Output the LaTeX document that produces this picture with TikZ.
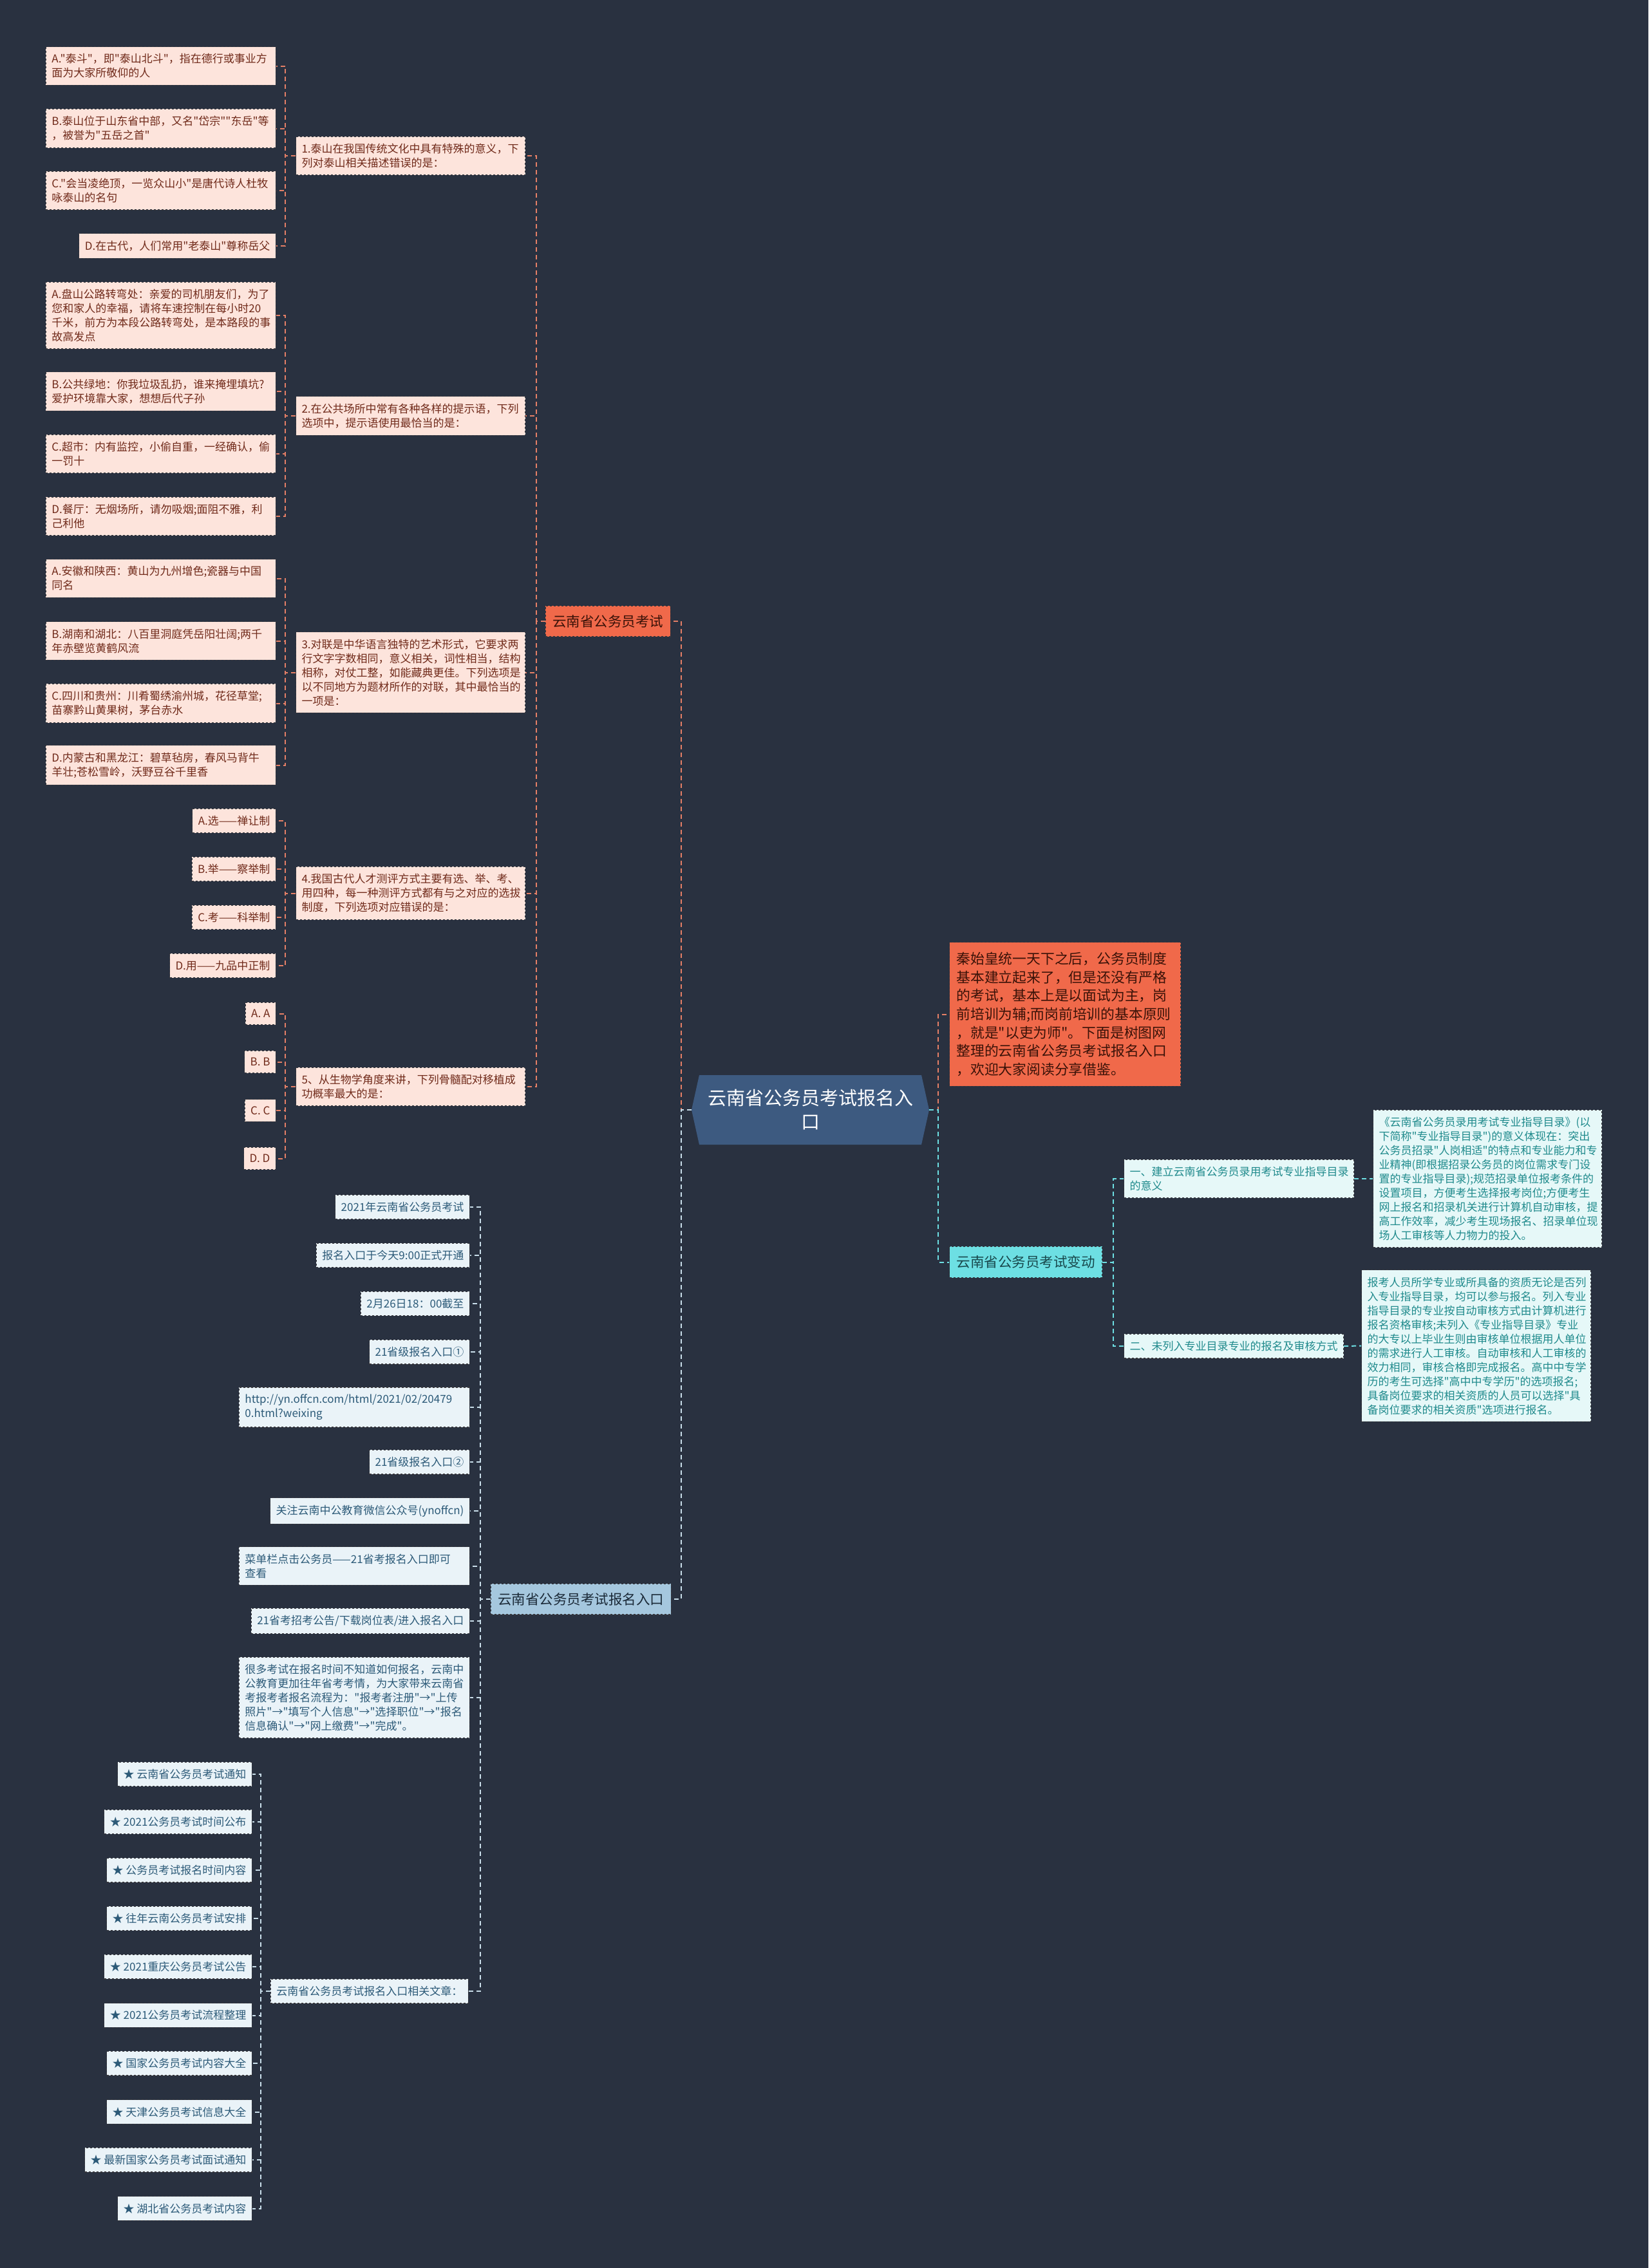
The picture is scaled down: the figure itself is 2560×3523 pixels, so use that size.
\documentclass[tikz,border=0pt]{standalone}
\usepackage{fontspec}
\setmainfont{Noto Sans CJK SC}[Ligatures=TeXOff]
\usepackage{xcolor}
\usepackage{tikz}
\usetikzlibrary{shapes.symbols,positioning}

\definecolor{bg}{RGB}{41,49,64}
\definecolor{edge}{RGB}{55,55,60}
\definecolor{rootfill}{RGB}{61,90,128}
\definecolor{coral}{RGB}{240,105,74}
\definecolor{coraltxt}{RGB}{58,18,8}
\definecolor{peach}{RGB}{253,228,220}
\definecolor{peachtxt}{RGB}{112,42,26}
\definecolor{oline}{RGB}{229,127,102}
\definecolor{aqua}{RGB}{109,223,227}
\definecolor{aquatxt}{RGB}{24,72,76}
\definecolor{mint}{RGB}{230,248,248}
\definecolor{minttxt}{RGB}{31,138,140}
\definecolor{sky}{RGB}{165,199,222}
\definecolor{skytxt}{RGB}{27,42,56}
\definecolor{frost}{RGB}{234,243,248}
\definecolor{frosttxt}{RGB}{44,90,120}
\definecolor{bline}{RGB}{201,222,234}

\begin{document}
\begin{tikzpicture}[x=1pt, y=-1pt,
  card/.style={rectangle, draw=edge, dashed, line width=1.1pt,
               inner xsep=9pt, inner ysep=11pt, align=left,
               font=\fontsize{17}{22}\selectfont},
  oleaf/.style={card, fill=peach, text=peachtxt},
  cleaf/.style={card, fill=mint, text=minttxt},
  bleaf/.style={card, fill=frost, text=frosttxt},
  topic/.style={card, fill=#1, inner xsep=11pt, inner ysep=14pt,
                font=\fontsize{21.5}{28}\selectfont},
  conn/.style={draw=#1, line width=2pt, dash pattern=on 7pt off 5pt}
]
  \fill[bg] (0,0) rectangle (2560,3523);
  \useasboundingbox (0,0) rectangle (2560,3523);

  % root
  \node[signal, signal to=west and east, signal pointer angle=155,
        fill=rootfill, text=white, minimum width=369pt, minimum height=108pt,
        inner sep=0pt, align=center, font=\fontsize{29}{37}\selectfont]
        (root) at (1258.5,1724) {云南省公务员考试报名入\\口};

  % branch: exam questions
  \node[topic=coral, text=coraltxt, anchor=east] (exam) at (1042,965) {云南省公务员考试};

  \node[oleaf, anchor=west, text width=338pt] (q1) at (459,242) {1.泰山在我国传统文化中具有特殊的意义，下\\列对泰山相关描述错误的是：};
  \node[oleaf, anchor=east, text width=339pt] (q1a) at (429,102.5) {A."泰斗"，即"泰山北斗"，指在德行或事业方\\面为大家所敬仰的人};
  \node[oleaf, anchor=east, text width=339pt] (q1b) at (429,199.5) {B.泰山位于山东省中部，又名"岱宗""东岳"等\\，被誉为"五岳之首"};
  \node[oleaf, anchor=east, text width=339pt] (q1c) at (429,296) {C."会当凌绝顶，一览众山小"是唐代诗人杜牧\\咏泰山的名句};
  \node[oleaf, anchor=east] (q1d) at (429,382) {D.在古代，人们常用"老泰山"尊称岳父};

  \node[oleaf, anchor=west, text width=338pt] (q2) at (459,646) {2.在公共场所中常有各种各样的提示语，下列\\选项中，提示语使用最恰当的是：};
  \node[oleaf, anchor=east, text width=339pt] (q2a) at (429,490) {A.盘山公路转弯处：亲爱的司机朋友们，为了\\您和家人的幸福，请将车速控制在每小时20\\千米，前方为本段公路转弯处，是本路段的事\\故高发点};
  \node[oleaf, anchor=east, text width=339pt] (q2b) at (429,608) {B.公共绿地：你我垃圾乱扔，谁来掩埋填坑?\\爱护环境靠大家，想想后代子孙};
  \node[oleaf, anchor=east, text width=339pt] (q2c) at (429,705) {C.超市：内有监控，小偷自重，一经确认，偷\\一罚十};
  \node[oleaf, anchor=east, text width=339pt] (q2d) at (429,802) {D.餐厅：无烟场所，请勿吸烟;面阻不雅，利\\己利他};

  \node[oleaf, anchor=west, text width=338pt] (q3) at (459,1044.5) {3.对联是中华语言独特的艺术形式，它要求两\\行文字字数相同，意义相关，词性相当，结构\\相称，对仗工整，如能藏典更佳。下列选项是\\以不同地方为题材所作的对联，其中最恰当的\\一项是：};
  \node[oleaf, anchor=east, text width=339pt] (q3a) at (429,898.5) {A.安徽和陕西：黄山为九州增色;瓷器与中国\\同名};
  \node[oleaf, anchor=east, text width=339pt] (q3b) at (429,995.5) {B.湖南和湖北：八百里洞庭凭岳阳壮阔;两千\\年赤壁览黄鹤风流};
  \node[oleaf, anchor=east, text width=339pt] (q3c) at (429,1092.5) {C.四川和贵州：川肴蜀绣渝州城，花径草堂;\\苗寨黔山黄果树，茅台赤水};
  \node[oleaf, anchor=east, text width=339pt] (q3d) at (429,1188.5) {D.内蒙古和黑龙江：碧草毡房，春风马背牛\\羊壮;苍松雪岭，沃野豆谷千里香};

  \node[oleaf, anchor=west, text width=338pt] (q4) at (459,1387.5) {4.我国古代人才测评方式主要有选、举、考、\\用四种，每一种测评方式都有与之对应的选拔\\制度，下列选项对应错误的是：};
  \node[oleaf, anchor=east] (q4a) at (429,1275) {A.选——禅让制};
  \node[oleaf, anchor=east] (q4b) at (429,1350) {B.举——察举制};
  \node[oleaf, anchor=east] (q4c) at (429,1425) {C.考——科举制};
  \node[oleaf, anchor=east] (q4d) at (429,1500) {D.用——九品中正制};

  \node[oleaf, anchor=west, text width=338pt] (q5) at (459,1688) {5、从生物学角度来讲，下列骨髓配对移植成\\功概率最大的是：};
  \node[oleaf, anchor=east] (q5a) at (429,1574.5) {A. A};
  \node[oleaf, anchor=east] (q5b) at (429,1649.5) {B. B};
  \node[oleaf, anchor=east] (q5c) at (429,1725) {C. C};
  \node[oleaf, anchor=east] (q5d) at (429,1799.5) {D. D};

  % right side
  \node[topic=coral, text=coraltxt, anchor=west, text width=337pt, align=left,
        font=\fontsize{21.8}{28.7}\selectfont, inner ysep=15.5pt] (intro) at (1474,1575.5)
        {秦始皇统一天下之后，公务员制度\\基本建立起来了，但是还没有严格\\的考试，基本上是以面试为主，岗\\前培训为辅;而岗前培训的基本原则\\，就是"以吏为师"。下面是树图网\\整理的云南省公务员考试报名入口\\，欢迎大家阅读分享借鉴。};
  \node[topic=aqua, text=aquatxt, anchor=west] (change) at (1474,1960.5) {云南省公务员考试变动};
  \node[cleaf, anchor=west, text width=339pt] (c1) at (1745,1831) {一、建立云南省公务员录用考试专业指导目录\\的意义};
  \node[cleaf, anchor=west] (c2) at (1745,2091) {二、未列入专业目录专业的报名及审核方式};
  \node[cleaf, anchor=west, text width=337pt] (c1t) at (2132,1831) {《云南省公务员录用考试专业指导目录》(以\\下简称"专业指导目录")的意义体现在：突出\\公务员招录"人岗相适"的特点和专业能力和专\\业精神(即根据招录公务员的岗位需求专门设\\置的专业指导目录);规范招录单位报考条件的\\设置项目，方便考生选择报考岗位;方便考生\\网上报名和招录机关进行计算机自动审核，提\\高工作效率，减少考生现场报名、招录单位现\\场人工审核等人力物力的投入。};
  \node[cleaf, anchor=west, text width=338pt] (c2t) at (2114,2090.5) {报考人员所学专业或所具备的资质无论是否列\\入专业指导目录，均可以参与报名。列入专业\\指导目录的专业按自动审核方式由计算机进行\\报名资格审核;未列入《专业指导目录》专业\\的大专以上毕业生则由审核单位根据用人单位\\的需求进行人工审核。自动审核和人工审核的\\效力相同，审核合格即完成报名。高中中专学\\历的考生可选择"高中中专学历"的选项报名;\\具备岗位要求的相关资质的人员可以选择"具\\备岗位要求的相关资质"选项进行报名。};

  % branch: entry
  \node[topic=sky, text=skytxt, anchor=east] (entry) at (1043,2484) {云南省公务员考试报名入口};
  \node[bleaf, anchor=east] (e1) at (730,1875) {2021年云南省公务员考试};
  \node[bleaf, anchor=east] (e2) at (730,1950) {报名入口于今天9:00正式开通};
  \node[bleaf, anchor=east] (e3) at (730,2025) {2月26日18：00截至};
  \node[bleaf, anchor=east] (e4) at (730,2100) {21省级报名入口①};
  \node[bleaf, anchor=east, text width=340pt] (e5) at (730,2186) {http://yn.offcn.com/html/2021/02/20479\\0.html?weixing};
  \node[bleaf, anchor=east] (e6) at (730,2271) {21省级报名入口②};
  \node[bleaf, anchor=east] (e7) at (730,2347) {关注云南中公教育微信公众号(ynoffcn)};
  \node[bleaf, anchor=east, text width=340pt] (e8) at (730,2432.5) {菜单栏点击公务员——21省考报名入口即可\\查看};
  \node[bleaf, anchor=east] (e9) at (730,2518) {21省考招考公告/下载岗位表/进入报名入口};
  \node[bleaf, anchor=east, text width=340pt] (e10) at (730,2637) {很多考试在报名时间不知道如何报名，云南中\\公教育更加往年省考考情，为大家带来云南省\\考报考者报名流程为："报考者注册"→"上传\\照片"→"填写个人信息"→"选择职位"→"报名\\信息确认"→"网上缴费"→"完成"。};
  \node[bleaf, anchor=east] (rel) at (728,3093) {云南省公务员考试报名入口相关文章：};

  \node[bleaf, anchor=east] (s1) at (392,2756) {★ 云南省公务员考试通知};
  \node[bleaf, anchor=east] (s2) at (392,2830) {★ 2021公务员考试时间公布};
  \node[bleaf, anchor=east] (s3) at (392,2905) {★ 公务员考试报名时间内容};
  \node[bleaf, anchor=east] (s4) at (392,2980) {★ 往年云南公务员考试安排};
  \node[bleaf, anchor=east] (s5) at (392,3055) {★ 2021重庆公务员考试公告};
  \node[bleaf, anchor=east] (s6) at (392,3130.5) {★ 2021公务员考试流程整理};
  \node[bleaf, anchor=east] (s7) at (392,3205) {★ 国家公务员考试内容大全};
  \node[bleaf, anchor=east] (s8) at (392,3280.5) {★ 天津公务员考试信息大全};
  \node[bleaf, anchor=east] (s9) at (392,3355) {★ 最新国家公务员考试面试通知};
  \node[bleaf, anchor=east] (s10) at (392,3430.5) {★ 湖北省公务员考试内容};

  % connectors
  \draw[conn=oline] (root.west) -- ++(-16,0) |- (exam.east);
  \draw[conn=bline] (root.west) -- ++(-16,0) |- (entry.east);
  \draw[conn=oline] (root.east) -- ++(14,0) |- (intro.west);
  \draw[conn=aqua]  (root.east) -- ++(14,0) |- (change.west);

  \draw[conn=oline] (exam.west) -- ++(-14,0) |- (q1.east);
  \draw[conn=oline] (exam.west) -- ++(-14,0) |- (q2.east);
  \draw[conn=oline] (exam.west) -- ++(-14,0) |- (q3.east);
  \draw[conn=oline] (exam.west) -- ++(-14,0) |- (q4.east);
  \draw[conn=oline] (exam.west) -- ++(-14,0) |- (q5.east);

  \draw[conn=oline] (q1.west) -- ++(-16,0) |- (q1a.east);
  \draw[conn=oline] (q1.west) -- ++(-16,0) |- (q1b.east);
  \draw[conn=oline] (q1.west) -- ++(-16,0) |- (q1c.east);
  \draw[conn=oline] (q1.west) -- ++(-16,0) |- (q1d.east);
  \draw[conn=oline] (q2.west) -- ++(-16,0) |- (q2a.east);
  \draw[conn=oline] (q2.west) -- ++(-16,0) |- (q2b.east);
  \draw[conn=oline] (q2.west) -- ++(-16,0) |- (q2c.east);
  \draw[conn=oline] (q2.west) -- ++(-16,0) |- (q2d.east);
  \draw[conn=oline] (q3.west) -- ++(-16,0) |- (q3a.east);
  \draw[conn=oline] (q3.west) -- ++(-16,0) |- (q3b.east);
  \draw[conn=oline] (q3.west) -- ++(-16,0) |- (q3c.east);
  \draw[conn=oline] (q3.west) -- ++(-16,0) |- (q3d.east);
  \draw[conn=oline] (q4.west) -- ++(-16,0) |- (q4a.east);
  \draw[conn=oline] (q4.west) -- ++(-16,0) |- (q4b.east);
  \draw[conn=oline] (q4.west) -- ++(-16,0) |- (q4c.east);
  \draw[conn=oline] (q4.west) -- ++(-16,0) |- (q4d.east);
  \draw[conn=oline] (q5.west) -- ++(-16,0) |- (q5a.east);
  \draw[conn=oline] (q5.west) -- ++(-16,0) |- (q5b.east);
  \draw[conn=oline] (q5.west) -- ++(-16,0) |- (q5c.east);
  \draw[conn=oline] (q5.west) -- ++(-16,0) |- (q5d.east);

  \draw[conn=aqua] (change.east) -- ++(17,0) |- (c1.west);
  \draw[conn=aqua] (change.east) -- ++(17,0) |- (c2.west);
  \draw[conn=aqua] (c1.east) -- (c1t.west);
  \draw[conn=aqua] (c2.east) -- (c2t.west);

  \draw[conn=bline] (entry.west) -- ++(-16,0) |- (e1.east);
  \draw[conn=bline] (entry.west) -- ++(-16,0) |- (e2.east);
  \draw[conn=bline] (entry.west) -- ++(-16,0) |- (e3.east);
  \draw[conn=bline] (entry.west) -- ++(-16,0) |- (e4.east);
  \draw[conn=bline] (entry.west) -- ++(-16,0) |- (e5.east);
  \draw[conn=bline] (entry.west) -- ++(-16,0) |- (e6.east);
  \draw[conn=bline] (entry.west) -- ++(-16,0) |- (e7.east);
  \draw[conn=bline] (entry.west) -- ++(-16,0) |- (e8.east);
  \draw[conn=bline] (entry.west) -- ++(-16,0) |- (e9.east);
  \draw[conn=bline] (entry.west) -- ++(-16,0) |- (e10.east);
  \draw[conn=bline] (entry.west) -- ++(-16,0) |- (rel.east);

  \draw[conn=bline] (rel.west) -- ++(-15,0) |- (s1.east);
  \draw[conn=bline] (rel.west) -- ++(-15,0) |- (s2.east);
  \draw[conn=bline] (rel.west) -- ++(-15,0) |- (s3.east);
  \draw[conn=bline] (rel.west) -- ++(-15,0) |- (s4.east);
  \draw[conn=bline] (rel.west) -- ++(-15,0) |- (s5.east);
  \draw[conn=bline] (rel.west) -- ++(-15,0) |- (s6.east);
  \draw[conn=bline] (rel.west) -- ++(-15,0) |- (s7.east);
  \draw[conn=bline] (rel.west) -- ++(-15,0) |- (s8.east);
  \draw[conn=bline] (rel.west) -- ++(-15,0) |- (s9.east);
  \draw[conn=bline] (rel.west) -- ++(-15,0) |- (s10.east);
\end{tikzpicture}
\end{document}
